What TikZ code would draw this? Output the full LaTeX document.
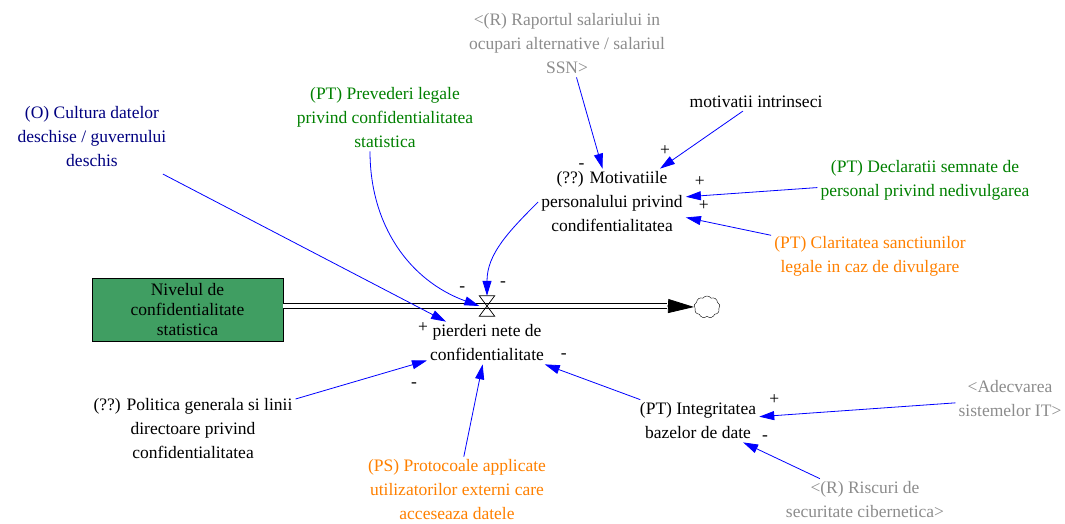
\documentclass[tikz,border=0pt]{standalone}
\usepackage{fontspec}
\setmainfont{Liberation Serif}
\usetikzlibrary{arrows.meta,shapes.symbols}
\definecolor{navytext}{RGB}{0,0,128}
\definecolor{greentext}{RGB}{0,128,0}
\definecolor{orangetext}{RGB}{255,128,0}
\definecolor{graytext}{RGB}{140,140,140}
\definecolor{stockgreen}{RGB}{64,158,98}

\begin{document}
\begin{tikzpicture}[x=1pt,y=1pt,font=\fontsize{17.5}{24}\selectfont]
    \tikzset{var/.style={align=center,inner sep=3pt},
      link/.style={blue,line width=0.8pt,-{Triangle[length=15pt,width=9pt]}},
      sign/.style={black,inner sep=0pt},
      pipe/.style={draw,double,double distance=4.5pt,line width=0.8pt}}
    \useasboundingbox (0,0) rectangle (1065,-523);
    \node[var,text=graytext] (raport) at (567,-44) {<(R) Raportul salariului in\\ocupari alternative / salariul\\SSN>};
    \node[var] (intr) at (756,-102) {motivatii intrinseci};
    \node[var,text=navytext] (cult) at (92,-137) {(O) Cultura datelor\\deschise / guvernului\\deschis};
    \node[var,text=greentext] (prev) at (385,-118) {(PT) Prevederi legale\\privind confidentialitatea\\statistica};
    \node[var] (motiv) at (612,-202) {(??) Motivatiile\\personalului privind\\condifentialitatea};
    \node[var,text=greentext] (declar) at (925,-180) {(PT) Declaratii semnate de\\personal privind nedivulgarea};
    \node[var,text=orangetext] (clarit) at (870,-256) {(PT) Claritatea sanctiunilor\\legale in caz de divulgare};
    \node[draw,fill=stockgreen,align=center,minimum width=191pt,minimum height=63pt,inner sep=0pt,font=\fontsize{17.5}{20}\selectfont] (stock) at (187.5,-309.5) {Nivelul de\\confidentialitate\\statistica};
    \node[minimum width=15pt,minimum height=20pt,inner sep=0pt] (valve) at (487,-306) {};
    \node[var] (pier) at (487,-343) {pierderi nete de\\confidentialitate};
    \node[cloud,draw,cloud puffs=9,cloud puff arc=110,aspect=1.3,minimum width=26pt,minimum height=22pt,inner sep=0pt] (cloud) at (707,-307) {};
    \node[var] (polit) at (193,-429) {(??) Politica generala si linii\\directoare privind\\confidentialitatea};
    \node[var,text=orangetext] (protoc) at (457,-490) {(PS) Protocoale applicate\\utilizatorilor externi care\\acceseaza datele};
    \node[var] (integr) at (698,-421) {(PT) Integritatea\\bazelor de date};
    \node[var,text=graytext] (adecv) at (1010,-399) {<Adecvarea\\sistemelor IT>};
    \node[var,text=graytext] (risc) at (865,-500) {<(R) Riscuri de\\securitate cibernetica>};
    \coordinate (tipbase) at (667,-306);
    % flow
    \draw[pipe] (stock.east |- valve) -- (tipbase);
    \draw[-{Triangle[length=26pt,width=14pt]},line width=0.8pt] (tipbase) -- (cloud.west);
    \draw[line width=0.7pt] (valve.north west) -- (valve.north east) -- (valve.south west) -- (valve.south east) -- cycle;
    % links
    \path[link]
    ([xshift=-15pt]prev.south) edge [out=-90,in=160] node [sign,at end,xshift=-17pt,yshift=17pt] {-} (valve.west)
    (motiv.west) edge [out=225,in=90] node [sign,at end,xshift=16pt,yshift=12pt] {-} (valve.north)
    (cult) edge [shorten <=8pt] node [sign,at end,xshift=-23pt,yshift=-6pt] {+} (pier)
    (raport) edge node [sign,at end,xshift=-21pt,yshift=3pt] {-} (motiv)
    (intr) edge node [sign,at end,xshift=5pt,yshift=18pt] {+} (motiv)
    (declar) edge node [sign,at end,xshift=14pt,yshift=15pt] {+} (motiv)
    (clarit) edge node [sign,at end,xshift=18pt,yshift=12pt] {+} (motiv)
    (polit) edge node [sign,at end,xshift=-13pt,yshift=-25pt] {-} (pier)
    (protoc) edge (pier)
    (integr) edge node [sign,at end,xshift=19pt,yshift=8pt] {-} (pier)
    (adecv) edge node [sign,at end,xshift=15pt,yshift=17pt] {+} (integr)
    (risc) edge node [sign,at end,xshift=22pt,yshift=4pt] {-} (integr)
    ;
\end{tikzpicture}
\end{document}
